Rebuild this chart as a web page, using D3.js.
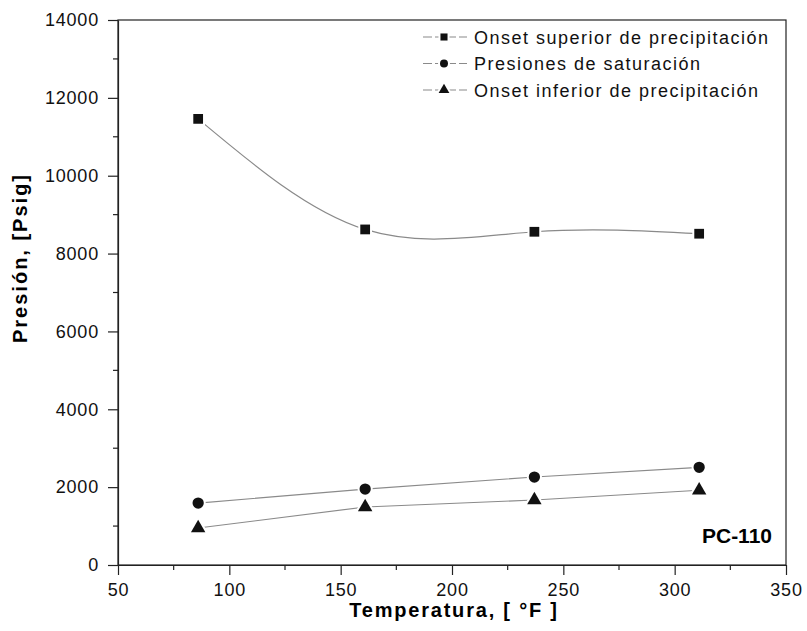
<!DOCTYPE html>
<html>
<head>
<meta charset="utf-8">
<script src="https://cdn.jsdelivr.net/npm/d3@7"></script>
<style>
  body { margin: 0; background: #fff; }
  svg text { font-family: "Liberation Sans", Arial, sans-serif; }
</style>
</head>
<body>
<svg id="chart" width="807" height="631"></svg>
<script>
// --- Data ---
const temps = [86, 161, 237, 311];
const onsetSuperior = [11460, 8620, 8560, 8510];
const saturacion = [1590, 1950, 2260, 2510];
const onsetInferior = [950, 1490, 1670, 1920];
const xTicks = [50, 100, 150, 200, 250, 300, 350];
const yTicks = [0, 2000, 4000, 6000, 8000, 10000, 12000, 14000];
const seriesNames = [
  "Onset superior de precipitación",
  "Presiones de saturación",
  "Onset inferior de precipitación"
];

const svg = d3.select("#chart");
const margin = { top: 20, right: 21, bottom: 66, left: 118 };
const width = 807, height = 631;
const innerW = width - margin.left - margin.right;
const innerH = height - margin.top - margin.bottom;

const g = svg.append("g").attr("transform", `translate(${margin.left},${margin.top})`);

const x = d3.scaleLinear().domain([50, 350]).range([0, innerW]);
const y = d3.scaleLinear().domain([0, 14000]).range([innerH, 0]);

// frame
g.append("rect")
  .attr("width", innerW).attr("height", innerH)
  .attr("fill", "none").attr("stroke", "#222").attr("stroke-width", 1.2);

// minor ticks
const xMinor = d3.range(75, 350, 50);
const yMinor = d3.range(1000, 14000, 2000);
g.selectAll(".xminor").data(xMinor).enter().append("line")
  .attr("x1", d => x(d)).attr("x2", d => x(d))
  .attr("y1", innerH).attr("y2", innerH + 5)
  .attr("stroke", "#222").attr("stroke-width", 1.2);
g.selectAll(".yminor").data(yMinor).enter().append("line")
  .attr("x1", -5).attr("x2", 0)
  .attr("y1", d => y(d)).attr("y2", d => y(d))
  .attr("stroke", "#222").attr("stroke-width", 1.2);

// axes
const xAxis = g.append("g")
  .attr("transform", `translate(0,${innerH})`)
  .call(d3.axisBottom(x).tickValues(xTicks).tickFormat(d3.format("d"))
    .tickSize(10).tickPadding(8).tickSizeOuter(0));
const yAxis = g.append("g")
  .call(d3.axisLeft(y).tickValues(yTicks).tickFormat(d3.format("d"))
    .tickSize(10).tickPadding(9).tickSizeOuter(0));

[xAxis, yAxis].forEach(a => {
  a.select(".domain").attr("stroke", "#222").attr("stroke-width", 1.2);
  a.selectAll(".tick line").attr("stroke", "#222").attr("stroke-width", 1.2);
  a.selectAll("text").attr("fill", "#111")
    .style("font-size", "18px").style("letter-spacing", "0.8px");
});

// axis titles
svg.append("text")
  .attr("x", 454).attr("y", 617)
  .attr("text-anchor", "middle")
  .style("font-size", "20px").style("font-weight", "bold")
  .style("letter-spacing", "1.8px")
  .text("Temperatura, [ °F ]");

svg.append("text")
  .attr("transform", "translate(27,258) rotate(-90)")
  .attr("text-anchor", "middle")
  .style("font-size", "20px").style("font-weight", "bold")
  .style("letter-spacing", "2px")
  .text("Presión, [Psig]");

// lines
const lineColor = "#8a8a8a";
const natural = d3.line().x(d => x(d[0])).y(d => y(d[1])).curve(d3.curveNatural);
const straight = d3.line().x(d => x(d[0])).y(d => y(d[1]));

g.append("path").datum(d3.zip(temps, onsetSuperior))
  .attr("d", natural).attr("fill", "none")
  .attr("stroke", lineColor).attr("stroke-width", 1.2);
g.append("path").datum(d3.zip(temps, saturacion))
  .attr("d", straight).attr("fill", "none")
  .attr("stroke", lineColor).attr("stroke-width", 1.2);
g.append("path").datum(d3.zip(temps, onsetInferior))
  .attr("d", straight).attr("fill", "none")
  .attr("stroke", lineColor).attr("stroke-width", 1.2);

// markers
const symSquare = d3.symbol().type(d3.symbolSquare).size(95);
const symCircle = d3.symbol().type(d3.symbolCircle).size(100);
const symTri = d3.symbol().type(d3.symbolTriangle).size(90);

function markers(vals, sym) {
  g.append("g").selectAll("path").data(d3.zip(temps, vals)).enter().append("path")
    .attr("d", sym)
    .attr("transform", d => `translate(${x(d[0])},${y(d[1])})`)
    .attr("fill", "#111").attr("stroke", "#fff").attr("stroke-width", 4)
    .attr("paint-order", "stroke");
}
markers(onsetSuperior, symSquare);
markers(saturacion, symCircle);
markers(onsetInferior, symTri);

// legend
const legTypes = [d3.symbolSquare, d3.symbolCircle, d3.symbolTriangle];
const leg = svg.append("g");
seriesNames.forEach((name, i) => {
  const ly = 37 + i * 26.5;
  leg.append("line")
    .attr("x1", 423).attr("x2", 467).attr("y1", ly).attr("y2", ly)
    .attr("stroke", lineColor).attr("stroke-width", 1.2)
    .attr("stroke-dasharray", "9,3");
  leg.append("path")
    .attr("d", d3.symbol().type(legTypes[i]).size(50)())
    .attr("transform", `translate(444,${ly})`)
    .attr("fill", "#111").attr("stroke", "#fff").attr("stroke-width", 4)
    .attr("paint-order", "stroke");
  leg.append("text")
    .attr("x", 474).attr("y", ly + 6.5)
    .style("font-size", "18px").style("letter-spacing", "1.5px")
    .attr("fill", "#111")
    .text(name);
});

// sample label
svg.append("text")
  .attr("x", 772).attr("y", 543)
  .attr("text-anchor", "end")
  .style("font-size", "21px").style("font-weight", "bold")
  .text("PC-110");
</script>
</body>
</html>
